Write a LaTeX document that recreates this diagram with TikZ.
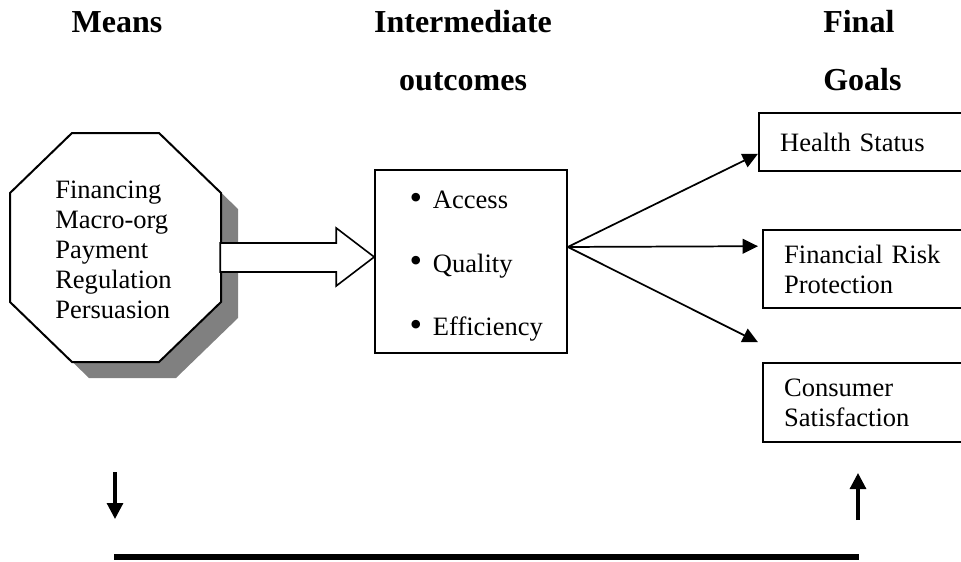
\documentclass[tikz,border=0pt]{standalone}
\usepackage{fontspec}
\setmainfont{Liberation Serif}
\usetikzlibrary{arrows.meta,positioning}

\newcommand{\octpath}{(72,133) -- (159,133) -- (221,193) -- (221,302) -- (159,362) -- (72,362) -- (10,302) -- (10,193) -- cycle}
\newcommand{\dotitem}{\raisebox{-0.6pt}{\scalebox{1.35}{\textbullet}}\hspace{8pt}}

\tikzset{
  heading/.style={font=\fontsize{24pt}{43.5pt}\selectfont\bfseries, align=center, inner sep=0pt},
  txt/.style={font=\fontsize{19.9pt}{22.5pt}\selectfont},
  goalbox/.style={txt, draw, line width=1.2pt, anchor=west, align=left, text width=130pt, inner xsep=16pt, inner ysep=0pt},
  link/.style={line width=1.3pt, -{Triangle[length=11.5pt,width=11pt]}},
  trend/.style={line width=2.3pt, -{Triangle[length=12pt,width=12pt]}},
}

\begin{document}
\begin{tikzpicture}[x=0.75pt,y=-0.75pt]
  \useasboundingbox (0,0) rectangle (961,561);
  \clip (0,0) rectangle (961,561);

  \node[heading] (means) at (117,22) {Means};
  \node[heading] (inter) at (463,51) {Intermediate\\outcomes};
  \node[heading, align=left, anchor=west] (final) at (823,51) {Final\\Goals};

  \begin{scope}[shift={(17,16)}]
    \fill[gray] \octpath;
  \end{scope}
  \draw[line width=1.5pt, fill=white] \octpath;
  \node[txt, align=left, anchor=west, inner sep=0pt] (levers) at (55,250)
    {Financing\\Macro-org\\Payment\\Regulation\\Persuasion};

  \node[draw, line width=1.2pt, minimum width=144pt, minimum height=137.25pt] (mid) at (471,261.5) {};
  \node[txt, align=left] (mid-list) at ([xshift=4pt,yshift=-3.5pt]mid.center)
    {\dotitem Access\\[25pt]\dotitem Quality\\[25pt]\dotitem Efficiency};

  \draw[line width=1.2pt, fill=white] ([yshift=3.4pt]mid.west) -- ++(-38,-29) -- ++(0,15) -- ++(-116,0)
    -- ++(0,29) -- ++(116,0) -- ++(0,14) -- cycle;

  \node[goalbox, minimum height=43.5pt] (health) at (758,142) {Health Status};
  \node[goalbox, minimum height=58.5pt] (risk) at (762,269) {Financial Risk\\Protection};
  \node[goalbox, minimum height=59.25pt] (satisf) at (762,402.5) {Consumer\\Satisfaction};

  \coordinate (fork) at ([yshift=10.9pt]mid.east);
  \coordinate (to-health) at ([yshift=13.5pt]health.south west);
  \coordinate (to-risk) at ([xshift=-3pt,yshift=-12.75pt]risk.north west);
  \coordinate (to-satisf) at ([xshift=-3pt,yshift=15pt]satisf.north west);
  \draw[link] (fork) -- (to-health);
  \draw[link] (fork) -- (to-risk);
  \draw[link] (fork) -- (to-satisf);

  \coordinate (down-top) at (115,472);
  \coordinate (down-end) at (115,519);
  \coordinate (up-top) at (858,473);
  \coordinate (up-end) at (858,520);
  \draw[trend] (down-top) -- (down-end);
  \draw[trend] (up-end) -- (up-top);

  \coordinate (bar-l) at (114,557);
  \coordinate (bar-r) at (859,557);
  \draw[line width=4.5pt] (bar-l) -- (bar-r);
\end{tikzpicture}
\end{document}
